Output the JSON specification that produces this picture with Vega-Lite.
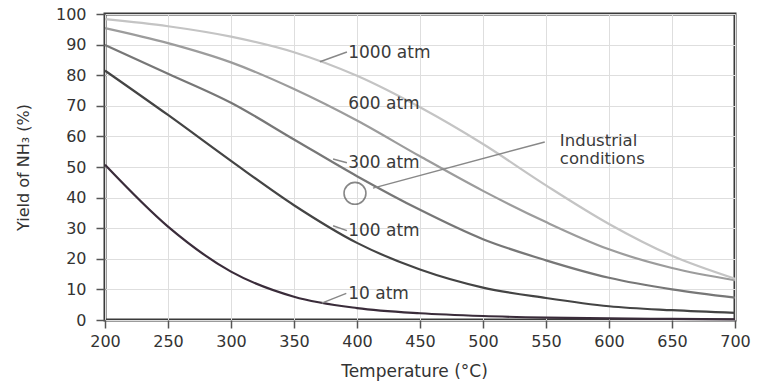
{
  "$schema": "https://vega.github.io/schema/vega-lite/v6.json",
  "autosize": {"type": "none"},
  "padding": {"left": 105, "top": 14, "right": 34, "bottom": 65},
  "width": 630,
  "height": 306,
  "background": "white",
  "config": {
    "font": "DejaVu Sans",
    "view": {"stroke": "#3a3a3a", "strokeWidth": 3},
    "axis": {"gridColor": "#dedede", "gridWidth": 1, "domain": false, "tickColor": "#555", "tickWidth": 1.5, "labelColor": "#333", "titleColor": "#333", "titleFontWeight": "normal", "labelFont": "DejaVu Sans", "titleFont": "DejaVu Sans", "labelOverlap": false, "labelFlush": false}
  },
  "datasets": {
    "curves": [
      {"series": "10 atm", "T": 200, "v": 50.7}, {"series": "10 atm", "T": 250, "v": 30.5}, {"series": "10 atm", "T": 300, "v": 15.8}, {"series": "10 atm", "T": 350, "v": 7.6}, {"series": "10 atm", "T": 400, "v": 3.9}, {"series": "10 atm", "T": 450, "v": 2.2}, {"series": "10 atm", "T": 500, "v": 1.3}, {"series": "10 atm", "T": 550, "v": 0.8}, {"series": "10 atm", "T": 600, "v": 0.5}, {"series": "10 atm", "T": 650, "v": 0.35}, {"series": "10 atm", "T": 700, "v": 0.2},
      {"series": "100 atm", "T": 200, "v": 81.5}, {"series": "100 atm", "T": 250, "v": 67}, {"series": "100 atm", "T": 300, "v": 52}, {"series": "100 atm", "T": 350, "v": 37.5}, {"series": "100 atm", "T": 400, "v": 25.2}, {"series": "100 atm", "T": 450, "v": 16.5}, {"series": "100 atm", "T": 500, "v": 10.6}, {"series": "100 atm", "T": 550, "v": 7.2}, {"series": "100 atm", "T": 600, "v": 4.5}, {"series": "100 atm", "T": 650, "v": 3.2}, {"series": "100 atm", "T": 700, "v": 2.3},
      {"series": "300 atm", "T": 200, "v": 89.9}, {"series": "300 atm", "T": 250, "v": 80.5}, {"series": "300 atm", "T": 300, "v": 71}, {"series": "300 atm", "T": 350, "v": 59}, {"series": "300 atm", "T": 400, "v": 47}, {"series": "300 atm", "T": 450, "v": 36}, {"series": "300 atm", "T": 500, "v": 26.4}, {"series": "300 atm", "T": 550, "v": 19.5}, {"series": "300 atm", "T": 600, "v": 13.8}, {"series": "300 atm", "T": 650, "v": 10}, {"series": "300 atm", "T": 700, "v": 7.3},
      {"series": "600 atm", "T": 200, "v": 95.4}, {"series": "600 atm", "T": 250, "v": 90.5}, {"series": "600 atm", "T": 300, "v": 84.2}, {"series": "600 atm", "T": 350, "v": 75.5}, {"series": "600 atm", "T": 400, "v": 65.2}, {"series": "600 atm", "T": 450, "v": 53.5}, {"series": "600 atm", "T": 500, "v": 42.2}, {"series": "600 atm", "T": 550, "v": 32}, {"series": "600 atm", "T": 600, "v": 23.1}, {"series": "600 atm", "T": 650, "v": 17}, {"series": "600 atm", "T": 700, "v": 13},
      {"series": "1000 atm", "T": 200, "v": 98.3}, {"series": "1000 atm", "T": 250, "v": 96}, {"series": "1000 atm", "T": 300, "v": 92.6}, {"series": "1000 atm", "T": 350, "v": 87.5}, {"series": "1000 atm", "T": 400, "v": 79.8}, {"series": "1000 atm", "T": 450, "v": 69.5}, {"series": "1000 atm", "T": 500, "v": 57.5}, {"series": "1000 atm", "T": 550, "v": 44}, {"series": "1000 atm", "T": 600, "v": 31.4}, {"series": "1000 atm", "T": 650, "v": 21}, {"series": "1000 atm", "T": 700, "v": 13.5}
    ],
    "labels": [
      {"T": 393, "v": 87.3, "text": "1000 atm", "size": 17},
      {"T": 393, "v": 70.5, "text": "600 atm", "size": 17},
      {"T": 393, "v": 51.4, "text": "300 atm", "size": 17},
      {"T": 393, "v": 29.2, "text": "100 atm", "size": 17},
      {"T": 393, "v": 8.6, "text": "10 atm", "size": 17},
      {"T": 561, "v": 58.6, "text": "Industrial", "size": 16.5},
      {"T": 561, "v": 52.5, "text": "conditions", "size": 16.5}
    ],
    "leaders": [
      {"T": 370.6, "v": 84.4, "T2": 392, "v2": 87.6},
      {"T": 381, "v": 52.6, "T2": 392, "v2": 51.4},
      {"T": 381, "v": 30.8, "T2": 392, "v2": 29.2},
      {"T": 372, "v": 5.5, "T2": 391.5, "v2": 8.7},
      {"T": 412.7, "v": 43.1, "T2": 549, "v2": 58.2}
    ],
    "marker": [{"T": 398.4, "v": 41.4}]
  },
  "encoding": {
    "x": {"field": "T", "type": "quantitative", "scale": {"domain": [200, 700], "nice": false, "zero": false},
          "axis": {"values": [200, 250, 300, 350, 400, 450, 500, 550, 600, 650, 700], "labelOverlap": false, "title": "Temperature (°C)", "labelFontSize": 16, "tickSize": 8, "labelPadding": 5, "titleFontSize": 17, "titleX": 309, "titleY": 51, "titleBaseline": "middle"}},
    "y": {"field": "v", "type": "quantitative", "scale": {"domain": [0, 100], "nice": false},
          "axis": {"values": [0, 10, 20, 30, 40, 50, 60, 70, 80, 90, 100], "labelOverlap": false, "labelBound": false, "title": "Yield of NH₃ (%)", "labelFontSize": 16, "tickSize": 9, "labelPadding": 10, "titleFontSize": 16, "titleX": -82, "titleBaseline": "middle"}}
  },
  "layer": [
    {
      "data": {"name": "curves"},
      "mark": {"type": "line", "interpolate": "monotone", "strokeWidth": 2.2},
      "encoding": {
        "color": {"field": "series", "type": "nominal",
                  "scale": {"domain": ["1000 atm", "600 atm", "300 atm", "100 atm", "10 atm"], "range": ["#c4c4c4", "#9c9c9c", "#777777", "#444444", "#3a2c3a"]},
                  "legend": null}
      }
    },
    {
      "data": {"name": "leaders"},
      "mark": {"type": "rule", "color": "#888", "strokeWidth": 1.5},
      "encoding": {
        "x2": {"field": "T2"},
        "y2": {"field": "v2"}
      }
    },
    {
      "data": {"name": "marker"},
      "mark": {"type": "point", "shape": "circle", "filled": false, "size": 480, "color": "#555", "strokeWidth": 1.6},
      "encoding": {}
    },
    {
      "data": {"name": "labels"},
      "mark": {"type": "text", "align": "left", "baseline": "middle", "color": "#3a3a3a", "font": "DejaVu Sans"},
      "encoding": {
        "text": {"field": "text"},
        "size": {"field": "size", "type": "quantitative", "scale": null}
      }
    }
  ]
}
